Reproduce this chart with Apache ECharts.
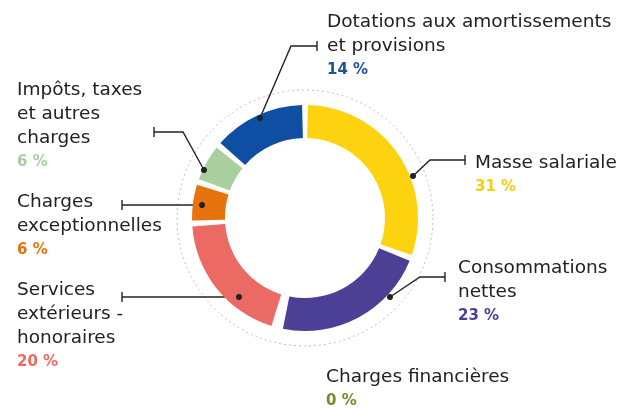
<!DOCTYPE html>
<html>
<head>
<meta charset="utf-8">
<script src="https://cdn.jsdelivr.net/npm/echarts@6/dist/echarts.min.js"></script>
<style>
html,body{margin:0;padding:0;background:#fff;}
#chart{width:635px;height:410px;}
</style>
</head>
<body>
<div id="chart"></div>
<script>
// ---- data ----
const categories = [
  'Masse salariale',
  'Consommations\nnettes',
  'Charges financières',
  'Services\nextérieurs -\nhonoraires',
  'Charges\nexceptionnelles',
  'Impôts, taxes\net autres\ncharges',
  'Dotations aux amortissements\net provisions'
];
const values = [31, 23, 0, 20, 6, 6, 14];

// ---- styles / layout ----
const sliceColors = ['#FDD20E', '#4B3F96', '#6E8F2C', '#EC6A64', '#E8720C', '#A9CF9F', '#0E4FA3'];
const pctColors   = ['#F2CF12', '#4B3F96', '#6E8F2C', '#EC6A64', '#E8720C', '#A9CF9F', '#1F5394'];
const CX = 305, CY = 218;
const labelPos = [[475,151],[458,256],[326,365],[17,278],[17,190],[17,78],[327,10]];
const leaders = [
  [[413,176],[430,160],[465,160]],
  [[390,297],[420,277],[445,277]],
  null,
  [[239,297],[180,297],[122,297]],
  [[202,205],[160,205],[122,205]],
  [[204,170],[183,132],[154,132]],
  [[260,118],[291,46],[317,46]]
];

const rich = {
  n: {fontFamily: 'DejaVu Sans', fontSize: 18.5, color: '#222', lineHeight: 24}
};
pctColors.forEach((c, i) => {
  rich['p' + i] = {fontFamily: 'DejaVu Sans', fontSize: 15, fontWeight: 'bold', color: c, lineHeight: 24};
});

const data = categories.map((name, i) => ({
  name: name,
  value: values[i],
  itemStyle: {color: sliceColors[i]},
  labelLine: {show: !!leaders[i]}
}));

const graphics = [{
  type: 'circle',
  shape: {cx: CX, cy: CY, r: 128},
  style: {fill: 'none', stroke: '#bdbdbd', lineWidth: 1, lineDash: [2, 3]},
  silent: true, z: 0
}];
leaders.forEach(l => {
  if (!l) return;
  graphics.push({
    type: 'circle', shape: {cx: l[0][0], cy: l[0][1], r: 2.6},
    style: {fill: '#222', stroke: '#222'}, z: 10
  });
  graphics.push({
    type: 'line', shape: {x1: l[2][0], y1: l[2][1] - 5, x2: l[2][0], y2: l[2][1] + 5},
    style: {stroke: '#222', lineWidth: 1.4}, z: 10
  });
});

const chart = echarts.init(document.getElementById('chart'));
chart.setOption({
  animation: false,
  graphic: graphics,
  series: [{
    type: 'pie',
    center: [CX, CY],
    radius: [80, 113],
    startAngle: 90,
    clockwise: true,
    padAngle: 3,
    avoidLabelOverlap: false,
    emphasis: {disabled: true},
    label: {
      show: true,
      position: 'outside',
      formatter: p => p.name.split('\n').map(s => '{n|' + s + '}').join('\n') +
        '\n{p' + p.dataIndex + '|' + p.value + ' %}',
      rich: rich
    },
    labelLine: {show: true, lineStyle: {color: '#222', width: 1.4}},
    labelLayout: function (params) {
      const i = params.dataIndex;
      const o = {x: labelPos[i][0], y: labelPos[i][1], align: 'left', verticalAlign: 'top'};
      if (leaders[i]) o.labelLinePoints = leaders[i];
      return o;
    },
    data: data
  }]
});
</script>
</body>
</html>
